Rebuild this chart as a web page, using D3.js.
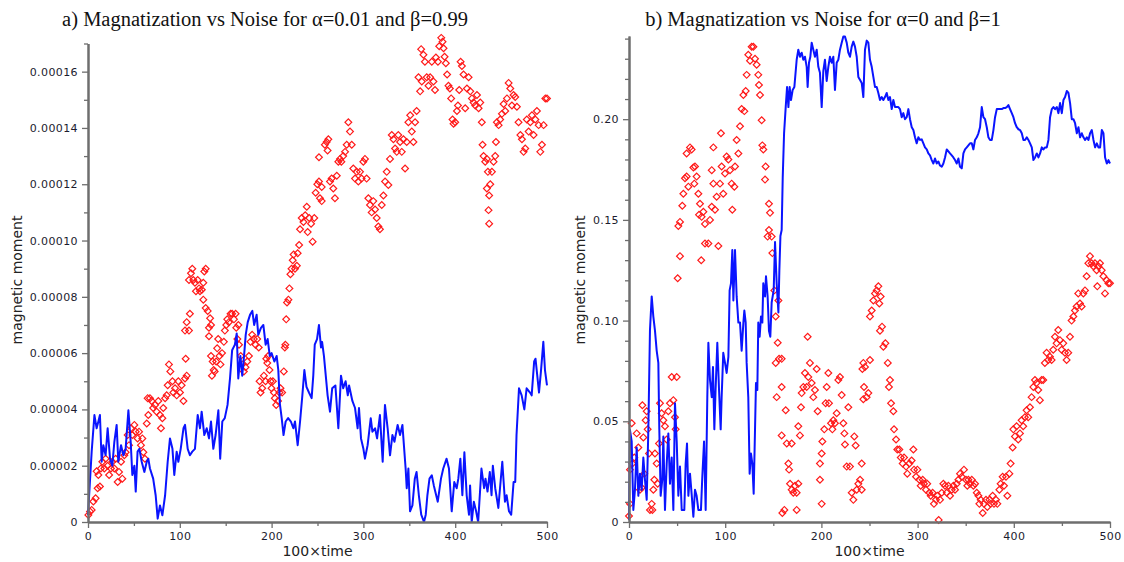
<!DOCTYPE html>
<html>
<head>
<meta charset="utf-8">
<script src="https://cdn.jsdelivr.net/npm/d3@7"></script>
<style>
  body { margin: 0; background: #fff; }
  svg { display: block; }
</style>
</head>
<body>
<svg id="canvas"></svg>
<script>
let width = 1124
let height = 562

// values: [100×time, moment]
// panel a) moments are in units of 1e-5, panel b) in units of 0.01
let unitA = 1e-5
let unitB = 0.01

let timeTicks = [0, 100, 200, 300, 400, 500]
let ticksA = [0, 0.00002, 0.00004, 0.00006, 0.00008, 0.00010, 0.00012, 0.00014, 0.00016]
let ticksB = [0, 0.05, 0.10, 0.15, 0.20]

let titleA = "a) Magnatization vs Noise for α=0.01 and β=0.99"
let titleB = "b) Magnatization vs Noise for α=0 and β=1"

let lineA = [[0,0.25],[4,2.5],[7,3.8],[9.4,3.33],[11.3,3.57],[13,3.8],[14.9,2.14],[16.7,2.73],[19.2,2.37],[21.4,3.33],[24,2.25],[26.5,2.0],[28.7,2.85],[31.2,3.45],[33,2.14],[36,2.73],[38.5,2.37],[41,2.6],[44,3.97],[46.5,2.85],[48.3,1.67],[50.5,2.0],[52,1.08],[54,2.5],[56,2.6],[58.5,2.14],[61.4,1.78],[64,2.14],[65.7,2.25],[67.5,1.9],[71,1.54],[73.7,0.95],[75.9,0.12],[78.4,0.59],[81,0.24],[84,0.95],[86.8,2.14],[89.3,2.97],[92,2.6],[94,1.67],[96.6,2.5],[98.4,2.14],[101,2.6],[104,3.33],[105.7,3.45],[108.6,2.6],[111,2.37],[113.6,2.5],[116.5,2.6],[119.5,3.8],[122,3.33],[123.8,3.92],[126.7,3.09],[129.3,3.33],[131.8,2.97],[134,3.57],[136.5,2.6],[139,3.09],[142,3.97],[144,2.25],[146.3,3.57],[149,3.69],[152,4.16],[154.7,5.1],[157,6.1],[160,6.3],[162,6.7],[163.7,5.1],[166,5.9],[168,5.2],[170,5.9],[171.8,6.65],[174,7.1],[176.5,7.36],[179,7.5],[181,7.0],[183.7,7.36],[185.5,6.65],[188.4,6.9],[191,7.0],[193.5,6.3],[195.7,6.5],[198,5.9],[200,6.0],[203,5.7],[205.5,5.9],[207.3,5.4],[209,4.2],[211,3.69],[213,3.09],[215.3,3.57],[218,3.69],[221,3.57],[223.7,3.33],[225.5,3.57],[228.4,2.73],[231,3.57],[233.5,4.5],[235.7,5.4],[238,4.8],[240.7,4.6],[243.6,4.4],[245.4,5.2],[247,6.3],[249.5,6.5],[251.6,7.0],[253.8,6.2],[255,6.4],[257,5.9],[261,4.5],[263.6,3.92],[266,4.75],[269.5,4.85],[272.7,3.33],[275.6,5.2],[278,4.75],[280.6,5.0],[283,4.5],[284.4,4.85],[288,4.3],[290.9,4.05],[293.7,3.33],[295.2,4.05],[297.4,2.97],[300,2.6],[301.7,2.25],[304.6,2.73],[308,3.69],[309.8,3.21],[312.7,3.33],[314.9,2.97],[318,3.8],[321,2.14],[323.5,4.16],[326.4,3.33],[329,2.37],[331.6,3.09],[333.8,2.85],[337.3,3.45],[339.9,3.09],[342.5,3.45],[346,1.9],[347.2,1.2],[349,1.9],[350.8,0.38],[353.4,0.59],[356,1.54],[357.9,1.78],[360.4,0.95],[363,0.26],[366,0.0],[367.9,0.26],[369.7,0.95],[372,1.54],[374.5,1.66],[376.7,1.3],[381,0.72],[384.5,1.54],[387,1.9],[390.6,2.25],[393.2,1.9],[396.2,0.38],[399,1.42],[401.6,1.2],[403.4,1.54],[405.6,2.25],[407.8,0.95],[410,2.48],[412.5,0.95],[415,0.26],[416.2,1.3],[418,0.0],[420.3,0.72],[422.8,0.38],[425,0.0],[428.6,1.9],[431.5,1.2],[433,1.54],[435.2,1.08],[437.7,1.78],[439.6,0.95],[441,2.0],[443.6,1.2],[447,0.5],[448.8,1.2],[451.3,2.14],[454.2,0.72],[456,0.95],[458.6,0.38],[461,0.26],[463.6,1.42],[465.4,1.42],[466.8,3.09],[469.5,4.75],[472.4,4.5],[475.3,4.0],[477.8,4.75],[481.5,4.6],[483.3,4.5],[486,5.7],[487.5,5.8],[491.3,4.6],[493.4,5.35],[496,6.4],[497.8,5.4],[500,4.85]]

let pointsA = [[0.4,0.25],[2.2,0.37],[4,0.43],[5.8,0.73],[8.3,0.84],[10.5,1.2],[13,1.26],[9.4,1.8],[11.3,1.67],[14,1.9],[15.6,2.14],[17.8,1.9],[19.2,2.25],[21.4,2.0],[23,1.67],[25,1.9],[26.5,2.14],[28.7,1.9],[30.1,2.25],[32.3,1.42],[33.8,1.78],[36,2.14],[37.4,1.54],[39.6,2.37],[41,2.48],[43.2,3.09],[44.7,2.73],[46.8,3.33],[48.3,3.09],[50.5,3.45],[52,3.21],[54,2.97],[55.6,3.21],[57.7,2.73],[59.2,2.97],[60.3,2.48],[62,2.25],[64,3.5],[65.7,3.8],[65,4.4],[67.5,4.4],[69.3,4.3],[71,4.05],[73,4.16],[74.8,3.92],[76.6,4.3],[78.4,3.8],[79.5,3.33],[81,3.69],[82,4.05],[84,4.4],[85.7,4.5],[86.8,4.86],[88.2,5.6],[89.7,5.35],[92,5.0],[93,4.6],[94.8,4.75],[96.6,4.5],[98.4,5.0],[100.2,4.6],[102,4.86],[104,4.3],[105.7,5.1],[106.4,5.8],[107.5,5.2],[105.7,6.8],[107.5,7.1],[110,6.8],[111,7.4],[110,8.6],[112.2,8.84],[113.6,9.0],[114.7,8.6],[116.5,8.5],[117.6,8.2],[119.5,8.6],[121,8.3],[122,8.2],[124,8.25],[125.6,8.5],[126.7,8.9],[128.2,9.0],[125.6,7.9],[128.2,7.6],[130.4,7.5],[133,7.24],[131.8,6.9],[134,7.0],[131.8,6.6],[134,5.9],[135.8,5.7],[136.9,5.4],[135,5.2],[138,5.35],[139.6,5.7],[140.7,6.17],[141.8,6.5],[143.2,5.9],[144.3,5.6],[146,6.0],[148,6.4],[149.1,6.8],[150.6,7.0],[151.7,7.2],[153.4,7.1],[155.3,7.4],[157,7.4],[159,7.2],[160.8,7.4],[161.5,6.9],[163.8,7.0],[162.7,6.5],[164.5,6.3],[166.4,5.9],[168,5.6],[169.8,5.35],[171.6,5.5],[173.5,5.7],[175.3,5.9],[177,6.4],[178.8,6.65],[180.6,6.5],[182.5,6.3],[184.3,6.5],[186,6.2],[186.9,5.0],[188,4.6],[189.8,4.75],[191.6,5.2],[193.4,5.0],[194.2,5.8],[195.3,5.65],[196.3,5.9],[197.7,5.4],[198.8,5.0],[199.9,4.75],[201.4,5.0],[202.5,4.6],[203.5,4.4],[205,4.16],[207,4.3],[208.6,4.6],[209.7,4.75],[211.5,4.6],[213.3,5.35],[214.4,6.2],[215,6.3],[215.9,7.2],[216.8,7.8],[218.3,7.9],[219.4,8.3],[220.5,8.8],[221.7,9.0],[223,9.3],[224,9.5],[225.5,9.0],[227.5,9.1],[228.4,9.55],[230,9.84],[231,10.4],[232.8,10.8],[234.7,10.66],[236.6,10.9],[238.3,11.2],[239.3,10.3],[241,10.8],[243,10.6],[244.7,9.96],[246.5,10.8],[248,11.7],[249.8,12.0],[251.6,12.96],[252.7,11.5],[254.6,11.4],[251.6,12.1],[254.6,11.9],[258,13.4],[260,13.5],[261,13.2],[261.8,13.6],[263.6,12.1],[265.4,12.2],[267.2,11.85],[269,11.5],[271,12.3],[272.7,12.8],[274.5,12.9],[276,12.8],[278,13.0],[280,13.15],[281.8,13.4],[283.6,14.2],[285.4,13.87],[287.3,13.4],[289,12.56],[290.9,12.2],[292.7,12.44],[294.5,12.1],[296.3,12.44],[298,12.2],[299.9,12.8],[301.7,12.9],[303.5,12.2],[305.4,11.5],[307.2,11.26],[309,11.0],[310.8,11.4],[312.7,11.1],[314.5,10.8],[316.3,10.5],[318,10.4],[320,11.26],[321.8,11.6],[323.6,12.1],[325.4,12.44],[327.2,11.97],[329,12.9],[330.9,13.75],[332.7,13.6],[334.5,13.27],[336.3,13.15],[338,13.75],[340,13.5],[341.8,13.15],[343.6,13.6],[345.4,12.56],[347.2,13.5],[349,14.2],[351,14.45],[352.7,13.87],[354.5,13.5],[356.3,14.2],[358,14.6],[360,15.8],[361.8,15.3],[363.6,15.65],[362.9,16.8],[365.4,16.6],[367,16.35],[369,15.8],[370.9,15.5],[372.7,15.8],[374.5,16.35],[376.3,15.65],[378,15.35],[379,16.5],[381.2,16.35],[382.6,16.9],[384.8,17.2],[386.2,17.06],[387.3,16.83],[388.4,16.53],[389.8,16.3],[391.2,15.9],[392.7,15.5],[394.2,15.4],[395.6,15.05],[397.1,14.3],[398.2,14.15],[400,14.2],[401.9,14.6],[403,14.8],[404.4,15.35],[405.9,16.35],[407.3,16.2],[409.1,15.9],[410.9,14.7],[412.8,15.4],[414.6,15.8],[416.4,15.3],[418.2,15.05],[420,14.9],[421.9,14.8],[423.7,15.17],[425.5,14.7],[427.3,14.9],[429,14.2],[429.8,13.4],[430.9,13.0],[432.7,12.8],[434.5,12.9],[435.6,12.44],[434.5,11.85],[437,11.6],[436.3,11.08],[437,10.6],[438.2,12.0],[440,12.44],[441.8,12.8],[443.6,13.0],[444.4,13.5],[445.4,14.2],[447.3,14.1],[449,14.3],[450.9,14.5],[452.7,14.85],[454.5,14.6],[456.4,15.05],[458.2,15.6],[460,15.4],[461.8,14.8],[463.6,15.17],[465.4,15.1],[467.2,14.75],[469,14.2],[471,13.75],[472.7,13.6],[474.5,13.15],[476.3,13.27],[478,14.3],[480,13.87],[481.8,14.2],[483.6,14.45],[485.4,13.75],[487.3,14.3],[489,14.6],[490.9,14.1],[492.7,13.15],[494.5,13.4],[496.3,14.1],[498.2,15.05],[500,15.05]]

let lineB = [[0,0.1],[1,4.57],[2.8,4.0],[4.5,0.6],[6.2,1.6],[8,3.7],[9.7,1.3],[11.4,2.4],[13.2,1.6],[14.9,3.2],[16.6,2.1],[18.4,1.1],[20.1,4.57],[21.8,9.53],[23.6,11.2],[25.3,10.2],[27,9.5],[28.8,8.5],[30.5,7.9],[31.5,4.6],[32.9,1.3],[34.6,2.1],[35.7,4.25],[37.4,0.6],[39.2,2.9],[40.9,4.4],[42.6,1.9],[44.4,3.2],[46.1,0.6],[47.8,5.9],[49.6,4.0],[51.3,1.3],[53,2.75],[54.8,0.6],[57.5,0.6],[58.9,2.9],[60.3,3.9],[61.7,1.3],[63.4,2.4],[65.1,1.4],[66.9,0.26],[68.6,1.6],[70.3,1.3],[72.1,0.6],[74.8,0.6],[76.2,2.25],[78,4.0],[79.7,0.6],[81.4,6.2],[82.5,8.9],[84.2,7.05],[86,6.2],[87.3,7.7],[88.7,4.6],[90,6.55],[91.8,8.9],[93.6,6.55],[95.3,4.6],[96.3,6.2],[98,8.4],[99.8,7.9],[101.5,7.4],[103.3,8.2],[104.6,11.5],[106,11.85],[107.4,13.5],[108.5,11.0],[110.2,13.5],[111.9,11.2],[113.7,9.9],[115.4,9.9],[117.1,8.5],[118.9,9.9],[119.9,10.5],[121.3,9.9],[122.3,7.9],[124,6.2],[125.4,2.4],[126.8,3.4],[128.2,2.9],[129.6,1.4],[131,4.6],[132,6.9],[133.4,6.55],[134.4,9.9],[135.8,9.2],[137.2,10.2],[138.6,9.9],[139.6,11.85],[141.4,11.2],[142.4,12.2],[144.1,11.2],[145.5,9.5],[146.9,9.2],[148.3,10.9],[150.4,11.5],[151.8,13.9],[153.5,11.85],[155.3,10.4],[156.3,12.5],[157.4,14.2],[158.7,14.5],[159.8,17.1],[161.2,19.3],[162.9,20.6],[164.3,21.6],[165.7,20.6],[167,21.6],[168.4,20.95],[170.1,21.45],[171.9,21.6],[174.3,22.95],[176,23.45],[177.7,23.1],[179.5,23.3],[181.2,22.95],[182.9,23.1],[184.7,22.6],[185.7,21.6],[187.1,22.8],[188.5,23.1],[189.9,23.8],[191.6,23.45],[193.3,23.1],[195.1,23.45],[196.8,22.6],[198.5,22.3],[200.3,20.6],[202,22.4],[203.7,22.95],[205.5,21.9],[207.2,22.6],[208.9,23.1],[210.7,22.8],[212.4,23.1],[214.1,21.45],[215.9,22.8],[217.6,22.95],[219.3,23.45],[221.1,23.8],[222.8,24.1],[224.5,24.1],[226.3,23.8],[228,23.3],[229.7,23.1],[231.5,23.6],[233.2,23.85],[234.9,23.6],[236.7,23.1],[238.4,22.1],[240.2,21.95],[241.9,21.8],[243.6,21.1],[245.3,23.45],[247.1,23.9],[248.8,23.8],[250.5,22.95],[252.3,22.6],[254,22.1],[255.7,21.6],[257.5,21.6],[259.2,21.3],[260.9,20.95],[262.7,21.1],[264.4,20.95],[266.1,21.1],[267.9,21.3],[269.6,20.95],[271.3,21.1],[273.1,20.5],[274.8,20.95],[276.5,20.6],[278.3,20.6],[280,20.6],[281.7,20.5],[283.5,20.1],[285.2,20.3],[286.9,20.0],[288.7,20.1],[290.4,20.5],[292.1,20.0],[293.9,19.6],[295.6,19.46],[297.3,19.1],[299.1,18.8],[300.8,19.1],[302.5,18.97],[304.3,19.0],[306,18.8],[307.7,18.6],[309.5,18.5],[311.2,18.3],[312.9,18.2],[314.7,17.97],[316.4,17.8],[318.1,18.05],[319.9,17.8],[321.6,17.9],[323.3,17.7],[325.1,17.64],[326.8,17.8],[328.5,18.1],[330.3,18.5],[332,18.4],[333.7,18.3],[335.5,18.2],[337.2,18.1],[338.9,17.97],[340.7,17.8],[342.4,18.05],[344.1,17.64],[345.9,17.56],[347.6,18.3],[349.3,18.5],[351.1,18.6],[352.8,18.7],[354.5,18.8],[356.3,18.8],[358,18.5],[359.7,18.97],[361.5,19.1],[363.2,19.3],[364.9,19.6],[366.7,20.6],[368.4,20.1],[370.1,20.0],[371.9,19.6],[373.6,19.1],[375.3,18.97],[377.1,18.97],[378.8,19.46],[380.5,20.1],[382.3,20.5],[384,20.5],[385.7,20.5],[387.5,20.5],[389.2,20.55],[390.9,20.55],[392.7,20.6],[394.4,20.7],[396.1,20.5],[397.9,20.3],[399.6,20.1],[401.3,19.8],[403.1,19.6],[404.8,19.5],[406.5,19.46],[408.3,19.3],[410,18.97],[411.7,18.97],[413.5,19.1],[415.2,18.97],[416.9,18.8],[418.7,18.6],[420.4,17.97],[422.1,18.1],[423.9,18.3],[425.6,18.1],[427.3,18.3],[429.1,18.6],[430.8,18.5],[432.5,18.6],[434.3,18.6],[436,18.97],[437.7,20.1],[439.5,20.5],[441.2,20.6],[442.9,20.5],[444.7,20.6],[446.4,20.3],[448.1,20.8],[449.9,20.3],[451.6,20.95],[453.3,21.1],[455.1,21.4],[456.8,21.3],[458.5,20.8],[460.3,20.0],[462,20.0],[463.7,19.8],[465.5,19.3],[467.2,19.6],[468.9,19.1],[470.7,19.3],[472.4,19.1],[474.1,18.97],[475.9,19.1],[477.6,18.97],[479.3,19.3],[481.1,19.46],[482.8,18.97],[484.5,18.6],[486.3,18.8],[488,18.6],[489.7,18.6],[491.5,19.46],[493.2,19.3],[494.9,18.1],[496.7,17.8],[498.4,17.97],[500,17.8]]

let pointsB = [[0,0.3],[1,0.9],[2.8,4.9],[1,2.6],[3.5,2.9],[5.5,3.2],[8,4.4],[9.7,3.7],[11.4,1.6],[13.2,1.7],[13.9,5.8],[14.9,4.2],[15.9,2.4],[17.3,5.05],[18.4,5.5],[19.4,4.6],[20.8,3.4],[21.8,0.6],[23.6,0.9],[24.3,0.6],[25.3,1.6],[26.3,2.1],[27,3.4],[28.8,2.9],[29.8,1.9],[31.2,3.9],[32.2,5.9],[33.9,5.4],[35.7,5.05],[37.4,4.75],[39.2,4.1],[40.9,5.5],[42.6,5.9],[44.4,7.2],[46.1,6.05],[47.8,5.2],[49.6,7.2],[48.5,4.6],[50.6,12.1],[53,13.2],[51.3,14.7],[53,14.9],[55.4,15.7],[56.5,16.3],[58.2,17.07],[59.9,17.15],[61.7,16.65],[59.9,18.3],[63.4,18.6],[65.1,18.5],[66.9,17.6],[68.6,17.65],[70.3,17.15],[67.9,16.8],[72.1,16.3],[73.8,15.8],[72.8,15.25],[75.5,15.15],[77.3,15.4],[79,14.8],[75.1,13.0],[79,13.83],[82.5,13.83],[84.2,15.0],[86,15.65],[87.7,18.6],[86,17.47],[87.7,16.8],[89.4,15.5],[91.1,16.15],[92.9,13.7],[94.6,16.8],[95.6,19.3],[96.3,17.65],[98,16.3],[99.8,17.3],[101.5,18.15],[103.3,18.0],[105,17.47],[106.7,16.8],[107.4,15.5],[109.5,16.65],[110.2,17.65],[111.9,18.97],[113.7,18.3],[115.4,19.65],[117.1,20.5],[118.9,21.2],[119.9,20.4],[121.3,21.4],[122.3,22.2],[124,23.2],[125.8,22.9],[127.5,23.6],[129.3,23.6],[131,23.0],[132.7,22.7],[134.4,22.2],[135.1,21.7],[136.2,21.2],[137.9,19.95],[138.6,18.7],[139.6,18.5],[142,17.65],[141.4,17.0],[145.5,15.8],[146.6,15.35],[145.5,14.5],[144.1,14.17],[148.3,14.17],[149,13.35],[151.1,11.5],[155.3,11.0],[152.5,10.2],[154.6,8.9],[156,8.1],[158.7,8.1],[152.5,7.9],[158.7,6.7],[153.5,6.2],[162.9,5.55],[158.7,4.3],[164,3.9],[169.1,3.9],[165.7,2.9],[166.4,2.6],[167.4,1.9],[169.1,1.6],[170.8,1.45],[172.6,1.8],[174.3,1.45],[176,1.9],[161.5,0.6],[159.4,0.45],[174.3,0.6],[176,4.75],[177.7,4.3],[178.8,5.7],[179.5,6.4],[181.2,6.7],[182.9,7.4],[184.7,6.7],[185.7,9.2],[186.4,7.2],[188.1,7.9],[189.9,6.9],[191.6,6.2],[193.3,6.55],[195.1,7.6],[196.1,5.5],[198.5,2.1],[200.3,0.9],[198.5,2.9],[200.3,3.4],[201,4.0],[203,4.6],[204.4,5.9],[205.5,6.7],[207.2,7.4],[207.9,5.9],[210,4.9],[211.4,4.6],[212.4,5.05],[214.1,4.9],[215.9,5.4],[217.6,7.05],[219.3,7.2],[221.1,6.3],[222.8,4.9],[223.9,4.4],[224.5,3.85],[226.3,2.75],[228,5.7],[229.7,2.75],[231.5,1.45],[233.2,1.1],[234.2,4.25],[235.6,3.8],[236.7,1.6],[238.4,1.9],[240.2,2.1],[241.9,2.9],[242.6,7.6],[243.6,7.9],[243.6,6.1],[241.9,1.6],[244.3,6.7],[245.3,7.7],[247,6.2],[248.8,6.4],[250.5,8.04],[250.5,10.2],[252.3,10.5],[254,11.0],[255.7,11.35],[257.5,11.5],[259.2,11.7],[260.2,10.85],[261.6,11.2],[260.9,9.5],[263,9.7],[264.4,8.7],[266.5,8.87],[269,7.9],[271.3,7.05],[270.2,6.7],[272.4,5.9],[274.8,5.5],[275.5,4.6],[277.6,4.1],[278.9,3.6],[281,3.6],[282.5,3.2],[284.5,2.9],[285.9,3.2],[288,2.75],[289.3,2.4],[291.4,2.9],[293.8,3.05],[295.6,3.6],[296.3,2.6],[298.4,2.25],[299.8,2.6],[301.8,2.1],[303.2,1.8],[305.3,2.1],[306.6,1.9],[308.7,1.6],[310,1.9],[312.2,1.45],[313.6,1.3],[315.6,1.45],[317,0.9],[319.1,1.1],[320.5,1.3],[321.9,0.1],[323.3,1.1],[325.1,1.45],[326.8,1.9],[328.5,1.8],[330.3,1.45],[332,1.8],[333.7,1.3],[335.5,1.6],[337.2,1.8],[338.9,1.6],[340.7,1.9],[342.4,2.1],[344.1,2.4],[345.9,2.25],[348.2,2.6],[350.3,2.1],[351.7,1.8],[352.8,2.1],[354.5,1.9],[356.3,2.1],[358,1.8],[359.7,1.9],[361.5,1.45],[363.2,1.3],[364.2,0.9],[365.6,1.1],[367.7,0.45],[369,0.9],[371.1,1.1],[372.5,0.75],[374.6,1.1],[375.9,0.9],[378,1.3],[379.4,0.9],[381.5,1.1],[382.9,0.9],[385,1.6],[386.3,1.9],[388.4,2.25],[389.8,1.8],[391.9,2.25],[393.3,1.3],[395.4,2.4],[396.7,2.9],[398.8,3.7],[399.5,4.6],[401.2,4.25],[402.9,4.75],[404.6,4.1],[406.4,4.4],[408.1,5.05],[409.8,4.75],[411.5,5.2],[413.3,5.55],[415,5.2],[416.8,5.7],[418.5,6.2],[420.3,6.7],[422,7.05],[423.6,6.9],[425.4,6.55],[427.1,6.05],[428.9,7.05],[430.6,7.05],[432.3,7.9],[434.1,8.4],[435.8,8.04],[437.6,8.2],[439.3,8.04],[441,8.55],[442.8,9.2],[444.5,8.87],[446.2,9.53],[448,9.03],[449.7,8.55],[451.4,8.87],[453.2,8.4],[454.9,8.04],[456.6,8.4],[458.4,9.2],[460.1,10.0],[461.9,10.2],[463.6,10.5],[465.3,10.7],[467,11.35],[468.8,10.85],[470.5,10.7],[472.3,11.35],[474,11.5],[475.7,12.2],[477.5,12.85],[479.2,13.2],[480.9,12.85],[482.7,12.7],[484.4,12.85],[486.1,12.5],[486.8,11.7],[487.9,12.7],[489.6,12.85],[491.4,12.5],[493.1,12.2],[494.8,11.35],[496.6,12.0],[498.3,11.85],[500,11.85]]

let canvas = d3.select("#canvas")
canvas.attr("width", width).attr("height", height)

let axisColor = "#6e6e6e"

let drawPanel = (panel) => {
  let x = d3.scaleLinear().domain([0, 500]).range(panel.xRange)
  let y = d3.scaleLinear().domain(panel.yDomain).range(panel.yRange)
  let g = canvas.append("g")

  // red diamonds
  g.selectAll("path.pt")
   .data(panel.points)
   .enter().append("path")
   .attr("class", "pt")
   .attr("d", d3.symbol().type(d3.symbolSquare).size(23))
   .attr("transform", p => "translate(" + x(p[0]) + "," + y(p[1] * panel.unit) + ") rotate(45)")
   .attr("fill", "none")
   .attr("stroke", "#ff1a1a")
   .attr("stroke-width", 1.2)

  // blue line
  let line = d3.line()
               .x(p => x(p[0]))
               .y(p => y(p[1] * panel.unit))
  g.append("path")
   .datum(panel.line)
   .attr("d", line)
   .attr("fill", "none")
   .attr("stroke", "#0a14ff")
   .attr("stroke-width", 2)
   .attr("stroke-linejoin", "round")

  // minor ticks first, then the labelled axes
  let styleAxis = (sel) => {
    sel.select(".domain").attr("stroke", axisColor).attr("stroke-width", 2)
    sel.selectAll(".tick line").attr("stroke", axisColor).attr("stroke-width", 1.3)
    sel.selectAll(".tick text")
       .attr("fill", "#1c1c2e")
       .style("font-family", "DejaVu Sans")
       .style("font-size", "11px")
       .style("letter-spacing", "0.4px")
  }

  let baseY = panel.yRange[0]
  let leftX = panel.xRange[0]

  g.append("g")
   .attr("transform", "translate(0," + baseY + ")")
   .call(d3.axisBottom(x).tickValues(d3.range(50, 500, 100)).tickSize(4).tickSizeOuter(0).tickFormat(""))
   .call(styleAxis)
  g.append("g")
   .attr("transform", "translate(" + leftX + ",0)")
   .call(d3.axisLeft(y).tickValues(panel.minor).tickSize(4).tickSizeOuter(0).tickFormat(""))
   .call(styleAxis)

  g.append("g")
   .attr("transform", "translate(0," + baseY + ")")
   .call(d3.axisBottom(x).tickValues(timeTicks).tickSize(6).tickPadding(4).tickSizeOuter(0))
   .call(styleAxis)
  g.append("g")
   .attr("transform", "translate(" + leftX + ",0)")
   .call(d3.axisLeft(y).tickValues(panel.ticks).tickSize(6).tickPadding(4).tickSizeOuter(0)
           .tickFormat(d => d === 0 ? "0" : d3.format("." + panel.digits + "f")(d)))
   .call(styleAxis)

  // labels
  g.append("text")
   .attr("x", (panel.xRange[0] + panel.xRange[1]) / 2)
   .attr("y", 556)
   .attr("text-anchor", "middle")
   .style("font-family", "DejaVu Sans")
   .style("font-size", "14px")
   .attr("fill", "#222")
   .text("100×time")

  g.append("text")
   .attr("transform", "translate(" + panel.yLabelX + ",280) rotate(-90)")
   .attr("text-anchor", "middle")
   .style("font-family", "DejaVu Sans")
   .style("font-size", "14px")
   .attr("fill", "#222")
   .text("magnetic moment")

  g.append("text")
   .attr("x", panel.titleX)
   .attr("y", 26)
   .attr("text-anchor", "middle")
   .style("font-family", "Liberation Serif")
   .style("font-size", "20.5px")
   .attr("fill", "#111")
   .text(panel.title)
}

drawPanel({
  xRange: [88, 547], yRange: [522, 43.5], yDomain: [0, 0.00017],
  unit: unitA, line: lineA, points: pointsA,
  ticks: ticksA, minor: d3.range(0.00001, 0.000171, 0.00002), digits: 5,
  yLabelX: 22, titleX: 265, title: titleA
})

drawPanel({
  xRange: [629, 1110], yRange: [522, 36], yDomain: [0, 0.2413],
  unit: unitB, line: lineB, points: pointsB,
  ticks: ticksB, minor: d3.range(0.01, 0.2405, 0.01).filter(v => Math.abs(v * 20 - Math.round(v * 20)) > 1e-6), digits: 2,
  yLabelX: 585, titleX: 823, title: titleB
})
</script>
</body>
</html>
